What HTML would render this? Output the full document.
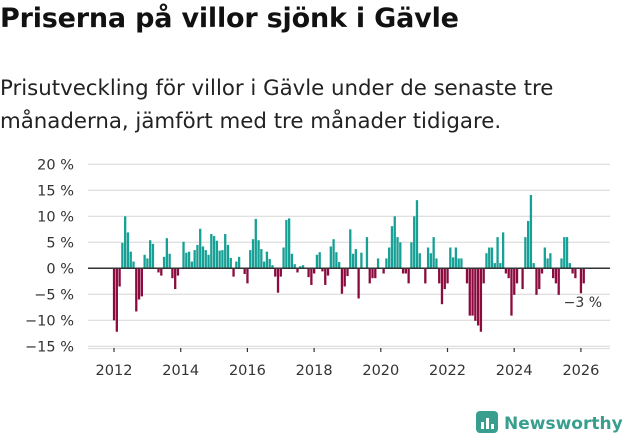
<!DOCTYPE html>
<html><head><meta charset="utf-8"><style>
body{margin:0;width:631px;height:439px;background:#fff;font-family:"DejaVu Sans","Liberation Sans",sans-serif;overflow:hidden;position:relative}
h1{position:absolute;left:0;top:3px;margin:0;font-size:27px;font-weight:bold;color:#111;letter-spacing:-0.2px;white-space:nowrap}
p{position:absolute;left:0;top:72px;margin:0;font-size:21.3px;line-height:33px;color:#222;width:631px;white-space:nowrap}
svg{position:absolute;left:0;top:0}
</style></head><body>
<h1>Priserna på villor sjönk i Gävle</h1>
<p>Prisutveckling för villor i Gävle under de senaste tre<br>månaderna, jämfört med tre månader tidigare.</p>
<svg id="c" width="631" height="439"></svg>
<script>
const yTicks=[20,15,10,5,0,-5,-10,-15];
const yearTicks=[2012,2014,2016,2018,2020,2022,2024,2026];
const values=[-10,-12.2,-3.5,4.9,10,6.9,3.2,1.3,-8.3,-6,-5.4,2.6,1.9,5.4,4.7,0,-0.8,-1.4,2.2,5.8,2.8,-1.9,-4,-1.4,0,5.1,3,3.2,1.3,3.5,4.5,7.6,4.2,3.5,2.6,6.6,6.2,5.3,3.4,3.5,6.6,4.5,2,-1.6,1.3,2.2,0,-1.1,-2.9,3.5,5.6,9.5,5.4,3.7,1.3,3.2,1.8,0.6,-1.6,-4.7,-1.6,4,9.3,9.6,2.8,0.8,-0.8,0.4,0.6,0,-1.7,-3.2,-1,2.6,3.1,-0.6,-3.2,-1.4,4.2,5.6,3.1,1.2,-4.9,-3.5,-1.5,7.5,2.8,3.7,-5.8,3,0,6,-2.9,-1.9,-1.9,1.9,0,-1,1.9,4,8.1,10,6,5,-1,-1,-2.9,5,10,13.1,2.9,0,-2.9,4,2.9,6,1.9,-2.9,-6.9,-4,-2.9,4,2.1,4,1.9,1.9,0,-2.9,-9.1,-9.1,-10.1,-11,-12.2,-2.9,2.9,4,4,1,6,1,6.9,-1,-1.9,-9.1,-5.1,-2.9,0,-4,6,9.1,14.1,1,-5.1,-4,-1,4,1.9,2.9,-1.9,-2.9,-5.1,1.9,6,6,1,-1,-1.9,0,-4.8,-2.9];
const startYear=2012;
const svg=document.getElementById('c');const NS='http://www.w3.org/2000/svg';
const y=v=>268.3-v*5.2;
const x=m=>114+m*(33.35/12);
function mk(t,a){const e=document.createElementNS(NS,t);for(const k in a)e.setAttribute(k,a[k]);svg.appendChild(e);return e;}
yTicks.forEach(t=>{
 const g=mk('line',{x1:88,x2:610,y1:y(t),y2:y(t),stroke:'#e0e0e0','stroke-width':1.3});
 
 
 const l=mk('text',{x:74,y:y(t)+5,'text-anchor':'end','font-size':14.5,fill:'#333'});
 l.textContent=(t<0?'\u2212'+(-t):t)+' %';
 
 
});
values.forEach((v,i)=>{
 const b=mk('rect',{x:x(i)-1.1,width:2.3,y:Math.min(y(v),y(0)),height:Math.abs(y(v)-y(0)),fill:v>=0?'#17a095':'#8c0b3f'});
 
 
});
const z=mk('line',{x1:88,x2:610,y1:y(0),y2:y(0),stroke:'#333','stroke-width':1.5});


const ax=mk('line',{x1:88,x2:610,y1:348.5,y2:348.5,stroke:'#e0e0e0','stroke-width':1.3});


yearTicks.forEach(yr=>{
 const px=x((yr-startYear)*12);
 const t=mk('line',{x1:px,x2:px,y1:348,y2:352,stroke:'#333','stroke-width':1.2});
 
 
 const l=mk('text',{x:px,y:375,'text-anchor':'middle','font-size':14.5,fill:'#333'});
 l.textContent=yr;
 
 
});
const last=values[values.length-1];
const a=mk('text',{x:602,y:307,'text-anchor':'end','font-size':14,fill:'#333'});
a.textContent='\u2212'+Math.abs(Math.round(last))+' %';


const lg=mk('g',{transform:'translate(476,411)'});


lg.innerHTML='<rect x="0" y="0" width="22" height="22" rx="4" fill="#3a9e8f"/><rect x="5" y="11" width="3" height="7" fill="#fff"/><rect x="10" y="7" width="3" height="11" fill="#fff"/><rect x="15" y="13" width="3" height="5" fill="#fff"/><text x="28" y="18" font-size="17" font-weight="bold" fill="#3a9e8f">Newsworthy</text>';
</script>
</body></html>
